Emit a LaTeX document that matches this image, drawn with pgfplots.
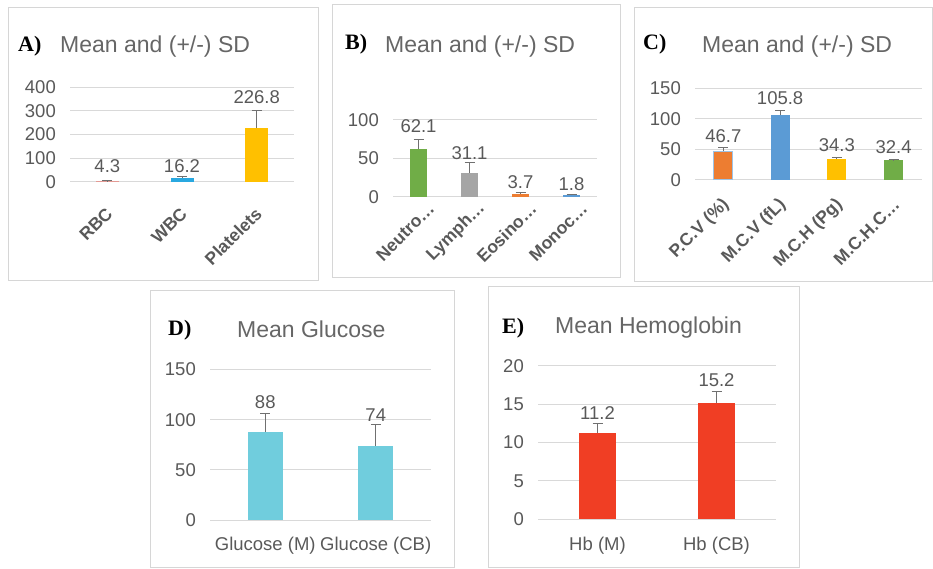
\documentclass[border=0pt]{standalone}
\usepackage{fontspec}
\setmainfont{Liberation Sans}
\newfontfamily\serifbf{Liberation Serif}
\usepackage{pgfplots}
\pgfplotsset{compat=1.18}
\definecolor{txt}{HTML}{595959}
\definecolor{ttl}{HTML}{666666}
\definecolor{gridc}{HTML}{D9D9D9}
\definecolor{boxc}{HTML}{D6D6D6}
\definecolor{errc}{HTML}{707070}
\definecolor{cRBC}{HTML}{E49A94}
\definecolor{cWBC}{HTML}{29A8E0}
\definecolor{cYel}{HTML}{FFC000}
\definecolor{cGrn}{HTML}{70AD47}
\definecolor{cGry}{HTML}{A5A5A5}
\definecolor{cOrg}{HTML}{ED7D31}
\definecolor{cBlu}{HTML}{5B9BD5}
\definecolor{cEdge}{HTML}{9DC3E6}
\definecolor{cGlu}{HTML}{70CDDD}
\definecolor{cHb}{HTML}{F03E24}
\newcommand{\tfont}{\fontsize{18.5}{18.5}\selectfont}
\newcommand{\rfont}{\fontsize{17.5}{17.5}\selectfont}
\pgfplotsset{
  panel/.style={
    scale only axis, clip=false,
    axis line style={draw=none},
    ymajorgrids, grid style={draw=gridc, line width=1pt},
    major tick length=0pt, ymin=0,
    tick style={draw=none},
    tick label style={font=\tfont, text=txt},
    yticklabel style={anchor=east, inner sep=0pt, xshift=-14pt},
    /pgf/number format/assume math mode=true,
  },
  rotlab/.style 2 args={xticklabel style={font=\bfseries\rfont, xshift=#1, yshift=#2, rotate=45, anchor=east, inner sep=0pt}},
  mybar/.style={ybar, bar shift=0pt, draw=none, fill=#1,
    error bars/y dir=plus, error bars/y explicit,
    error bars/error bar style={draw=errc, line width=1pt},
    error bars/error mark options={rotate=90, mark size=5pt, draw=errc, line width=1pt}},
  lab/.style={draw=none, mark=none, nodes near coords, point meta=explicit symbolic,
    nodes near coords style={anchor=center, font=\tfont, text=txt, inner sep=0pt}},
}
\begin{document}
\begin{tikzpicture}
\path[use as bounding box] (0pt,0pt) rectangle (933pt,568pt);
% panel boxes
\draw[boxc, line width=1pt] (8pt,287pt) rectangle (318pt,560pt);
\draw[boxc, line width=1pt] (332pt,290pt) rectangle (620pt,563pt);
\draw[boxc, line width=1pt] (634pt,286pt) rectangle (932pt,560pt);
\draw[boxc, line width=1pt] (150pt,1pt) rectangle (454pt,277pt);
\draw[boxc, line width=1pt] (488pt,1pt) rectangle (799pt,281pt);
% titles
\node[anchor=base west, inner sep=0pt, font=\serifbf\bfseries\fontsize{22}{22}\selectfont] at (18pt,516.5pt) {A)};
\node[anchor=base west, inner sep=0pt, font=\fontsize{23}{23}\selectfont, text=ttl] at (60pt,515.5pt) {Mean and (+/-) SD};
\node[anchor=base west, inner sep=0pt, font=\serifbf\bfseries\fontsize{22}{22}\selectfont] at (345pt,518pt) {B)};
\node[anchor=base west, inner sep=0pt, font=\fontsize{23}{23}\selectfont, text=ttl] at (385pt,515pt) {Mean and (+/-) SD};
\node[anchor=base west, inner sep=0pt, font=\serifbf\bfseries\fontsize{22}{22}\selectfont] at (643pt,518pt) {C)};
\node[anchor=base west, inner sep=0pt, font=\fontsize{23}{23}\selectfont, text=ttl] at (702pt,515pt) {Mean and (+/-) SD};
\node[anchor=base west, inner sep=0pt, font=\serifbf\bfseries\fontsize{22}{22}\selectfont] at (168pt,233pt) {D)};
\node[anchor=base west, inner sep=0pt, font=\fontsize{23}{23}\selectfont, text=ttl] at (237pt,231pt) {Mean Glucose};
\node[anchor=base west, inner sep=0pt, font=\serifbf\bfseries\fontsize{22}{22}\selectfont] at (502pt,235pt) {E)};
\node[anchor=base west, inner sep=0pt, font=\fontsize{23}{23}\selectfont, text=ttl] at (555pt,235pt) {Mean Hemoglobin};

% Panel A
\begin{axis}[panel, rotlab={2pt}{-29pt}, at={(70pt,386.3pt)}, anchor=south west,
  width=224pt, height=94.4pt, ymax=400, ytick={0,100,200,300,400},
  xmin=-0.5, xmax=2.5, xtick={0,1,2}, xticklabels={RBC, WBC, Platelets}]
\addplot[mybar=cRBC, bar width=23pt] coordinates {(0,4.3) +- (0,0.6)};
\addplot[mybar=cWBC, bar width=23pt] coordinates {(1,16.2) +- (0,5)};
\addplot[mybar=cYel, bar width=23pt] coordinates {(2,226.8) +- (0,73)};
\addplot[lab] coordinates {(0,66.5) [4.3] (1,66.5) [16.2] (2,357) [226.8]};
\end{axis}

% Panel B
\begin{axis}[panel, rotlab={13pt}{-9pt}, at={(393pt,371.3pt)}, anchor=south west,
  width=204pt, height=76.7pt, ymax=100, ytick={0,50,100},
  xmin=-0.5, xmax=3.5, xtick={0,1,2,3}, xticklabels={Neutro…, Lymph…, Eosino…, Monoc…}]
\addplot[mybar=cGrn, bar width=17pt] coordinates {(0,62.1) +- (0,12.7)};
\addplot[mybar=cGry, bar width=17pt] coordinates {(1,31.1) +- (0,13.2)};
\addplot[mybar=cOrg, bar width=17pt] coordinates {(2,3.7) +- (0,1.5)};
\addplot[mybar=cBlu, bar width=17pt] coordinates {(3,1.8) +- (0,1.3)};
\addplot[lab] coordinates {(0,92) [62.1] (1,56.4) [31.1] (2,18.4) [3.7] (3,16.5) [1.8]};
\end{axis}

% Panel C
\begin{axis}[panel, rotlab={3pt}{-22pt}, at={(695pt,388pt)}, anchor=south west,
  width=227pt, height=91.7pt, ymax=150, ytick={0,50,100,150},
  xmin=-0.5, xmax=3.5, xtick={0,1,2,3}, xticklabels={P.C.V (\%), M.C.V (fL), M.C.H (Pg), M.C.H.C…}]
\addplot[mybar=cOrg, bar width=19pt, draw=cEdge, line width=1pt] coordinates {(0,46.7) +- (0,6.2)};
\addplot[mybar=cBlu, bar width=19pt] coordinates {(1,105.8) +- (0,7.1)};
\addplot[mybar=cYel, bar width=19pt] coordinates {(2,34.3) +- (0,2.2)};
\addplot[mybar=cGrn, bar width=19pt] coordinates {(3,32.4) +- (0,0.8)};
\addplot[lab] coordinates {(0,72.3) [46.7] (1,133.7) [105.8] (2,57.3) [34.3] (3,54.5) [32.4]};
\end{axis}

% Panel D
\begin{axis}[panel, at={(210pt,47.7pt)}, anchor=south west,
  width=221pt, height=151pt, ymax=150, ytick={0,50,100,150},
  xmin=-0.5, xmax=1.5, xtick={0,1}, xticklabels={Glucose (M), Glucose (CB)},
  xticklabel style={anchor=base, yshift=-30pt}]
\addplot[mybar=cGlu, bar width=35pt] coordinates {(0,88) +- (0,18.3)};
\addplot[mybar=cGlu, bar width=35pt] coordinates {(1,74) +- (0,21.6)};
\addplot[lab] coordinates {(0,117.5) [88] (1,104.6) [74]};
\end{axis}

% Panel E
\begin{axis}[panel, at={(538pt,48.7pt)}, anchor=south west,
  width=238pt, height=153.6pt, ymax=20, ytick={0,5,10,15,20},
  xmin=-0.5, xmax=1.5, xtick={0,1}, xticklabels={Hb (M), Hb (CB)},
  xticklabel style={anchor=base, yshift=-31pt}]
\addplot[mybar=cHb, bar width=37pt] coordinates {(0,11.2) +- (0,1.3)};
\addplot[mybar=cHb, bar width=37pt] coordinates {(1,15.2) +- (0,1.4)};
\addplot[lab] coordinates {(0,13.8) [11.2] (1,18.1) [15.2]};
\end{axis}
\end{tikzpicture}
\end{document}
